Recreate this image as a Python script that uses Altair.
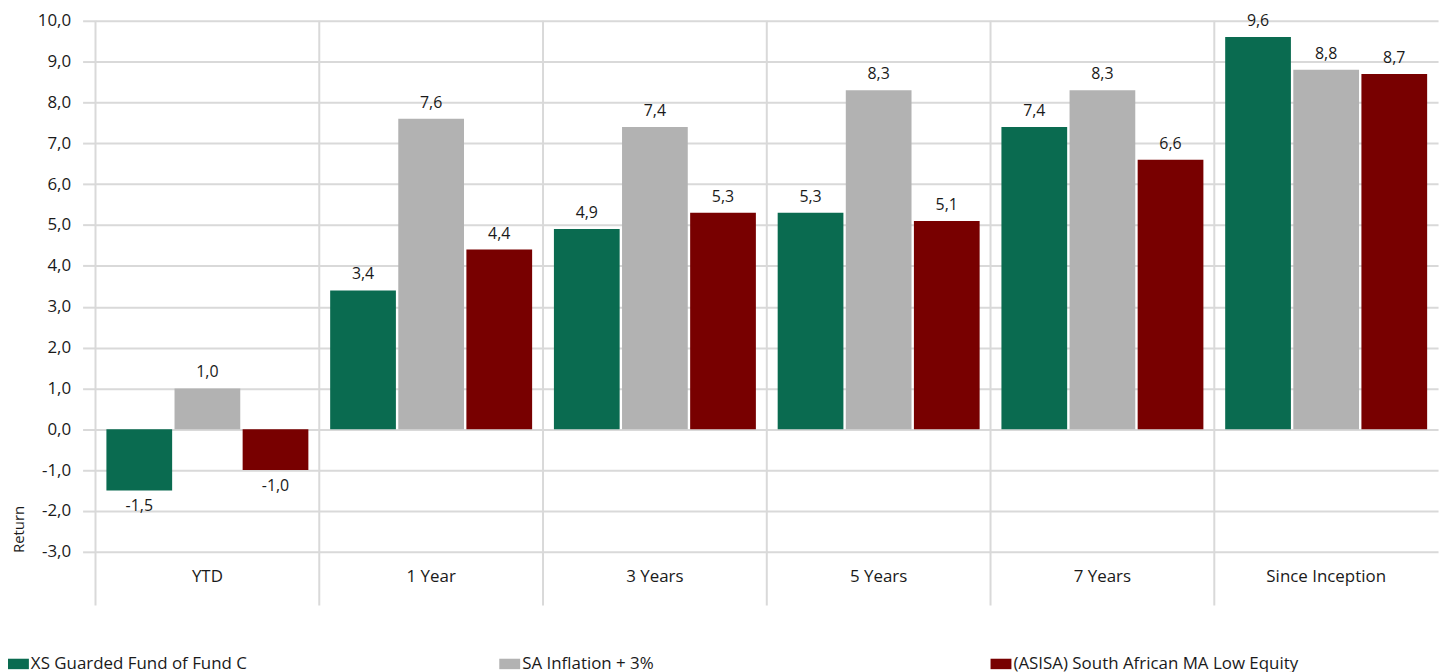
import altair as alt
import pandas as pd

periods = ["YTD", "1 Year", "3 Years", "5 Years", "7 Years", "Since Inception"]
series = ["XS Guarded Fund of Fund C", "SA Inflation + 3%", "(ASISA) South African MA Low Equity"]
colors = ["#0a6b50", "#b2b2b2", "#780000"]

fund = [-1.5, 3.4, 4.9, 5.3, 7.4, 9.6]
inflation = [1.0, 7.6, 7.4, 8.3, 8.3, 8.8]
asisa = [-1.0, 4.4, 5.3, 5.1, 6.6, 8.7]

y_ticks = list(range(-3, 11))

rows = []
for s, vals in zip(series, [fund, inflation, asisa]):
    for p, v in zip(periods, vals):
        rows.append({"Period": p, "Series": s, "Return": v})
df = pd.DataFrame(rows)
cat_df = pd.DataFrame({"Period": periods})

FONT = "Open Sans"
GRID = "#d9d9d9"
TXT = "#1a1a1a"

x_scale = alt.Scale(domain=periods, paddingInner=0, paddingOuter=0)
y_scale = alt.Scale(domain=[-3, 10], nice=False, zero=False)
x_axis = alt.Axis(
    grid=False, ticks=False, domain=False, labelAngle=0,
    labelPadding=17, labelFont=FONT, labelFontSize=17, labelColor=TXT,
)

rules = alt.Chart(cat_df).mark_rule(color=GRID, strokeWidth=2).encode(
    x=alt.X("Period:N", scale=x_scale, bandPosition=0, axis=x_axis, title=None),
    y=alt.value(0),
    y2=alt.value(588),
)

base = alt.Chart(df).encode(
    x=alt.X("Period:N", scale=x_scale, title=None, axis=x_axis),
    xOffset=alt.XOffset(
        "Series:N",
        sort=series,
        scale=alt.Scale(domain=series, paddingInner=0.035, paddingOuter=0.16),
    ),
    y=alt.Y(
        "Return:Q",
        scale=y_scale,
        title="Return",
        axis=alt.Axis(
            values=y_ticks, format=".1f", grid=True, gridColor=GRID, gridWidth=2,
            tickSize=13, tickColor=GRID, tickWidth=2, domain=False,
            labelPadding=12, labelFont=FONT, labelFontSize=17, labelColor=TXT,
            titleFont=FONT, titleFontSize=15, titleFontWeight="normal", titleColor=TXT,
            titleX=-84, titleY=511, titleAngle=-90, titleAlign="center",
            titleBaseline="top",
        ),
    ),
)

bars = base.mark_bar().encode(
    color=alt.Color(
        "Series:N",
        sort=series,
        scale=alt.Scale(domain=series, range=colors),
        legend=alt.Legend(
            title=None, orient="none", legendX=-88, legendY=636,
            direction="horizontal", columns=3, gridAlign="all", columnPadding=184,
            symbolType="M-1,-0.5H1V0.5H-1Z", symbolSize=441, symbolStrokeWidth=0,
            labelFont=FONT, labelFontSize=17, labelColor=TXT, labelOffset=2,
            labelLimit=600, padding=0,
        ),
    )
)

pos_text = base.transform_filter("datum.Return >= 0").mark_text(
    baseline="bottom", dy=-8, font=FONT, fontSize=16, color=TXT
).encode(text=alt.Text("Return:Q", format=".1f"))

neg_text = base.transform_filter("datum.Return < 0").mark_text(
    baseline="top", dy=8, font=FONT, fontSize=16, color=TXT
).encode(text=alt.Text("Return:Q", format=".1f"))

chart = alt.layer(rules, bars, pos_text, neg_text).properties(
    width=1350,
    height=534,
    autosize=alt.AutoSizeParams(type="none"),
    padding={"left": 88, "top": 11, "right": 8, "bottom": 119},
).configure_view(stroke=None)

chart.save(
    "out.html",
    embed_options={
        "renderer": "svg",
        "actions": False,
        "formatLocale": {
            "decimal": ",", "thousands": ".", "grouping": [3],
            "currency": ["", ""], "minus": "-",
        },
    },
)
